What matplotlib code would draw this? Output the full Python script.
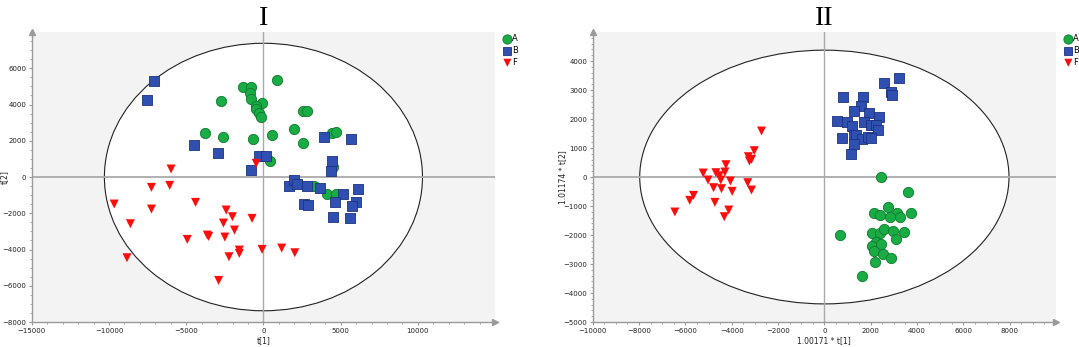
import numpy as np
import matplotlib
matplotlib.use("Agg")
import matplotlib.pyplot as plt
from matplotlib.patches import Ellipse
from matplotlib.ticker import MultipleLocator

# ---- panel I : t[1] vs t[2] ----
I_A_x = [848, -1295, -781, -848, -826, -2746, -112, -469, -491, -268, -134, 2567, 2813,
         2009, -3772, -2612, -647, 580, 2567, 4420, 4688, 424, 4531, 3304, 4107, 4688]
I_A_y = [5356, 4988, 4951, 4657, 4307, 4197, 4105, 3920, 3736, 3516, 3331, 3644, 3644,
         2669, 2448, 2190, 2117, 2301, 1859, 2448, 2485, 902, 571, -479, -939, -939]
I_B_x = [-7076, -7545, -4509, -2924, -826, -268, 179, 3929, 5692, 4420, 4353, 1652, 1987,
         2165, 2835, 3661, 5156, 6116, 2634, 2857, 4665, 6004, 5759, 4487, 5625]
I_B_y = [5319, 4233, 1749, 1307, 387, 1178, 1141, 2227, 2080, 902, 331, -479, -184,
         -405, -497, -626, -939, -644, -1472, -1565, -1380, -1399, -1583, -2227, -2264]
I_F_x = [-5982, -469, -7254, -6071, -9665, -7254, -4397, -8616, -2411, -2009, -2589, -737,
         -1875, -3638, -3549, -2500, -4933, -8839, -1563, -1563, -2232, -89, 1183, 2031, -2902]
I_F_y = [442, 755, -571, -460, -1491, -1767, -1399, -2577, -1822, -2190, -2540, -2282,
         -2927, -3203, -3276, -3313, -3442, -4454, -4031, -4215, -4399, -3994, -3920, -4178, -5706]

# ---- panel II : scaled t[1] vs scaled t[2] ----
II_A_x = [2429, 3607, 2727, 2161, 2414, 3145, 3279, 3741, 2847, 656, 2042, 2414, 2593,
          2951, 3428, 3085, 2221, 2042, 2429, 2161, 2519, 2861, 2191, 1624]
II_A_y = [0, -517, -1046, -1241, -1299, -1253, -1368, -1230, -1368, -2000, -1920, -1920, -1782,
          -1851, -1908, -2138, -2241, -2379, -2322, -2540, -2644, -2793, -2931, -3402]
II_B_x = [3234, 2563, 2861, 2936, 790, 1684, 1565, 1282, 1923, 2370, 566, 969, 1192,
          1714, 2012, 2250, 2325, 745, 1282, 1386, 1639, 1863, 2012, 1282, 1148]
II_B_y = [3414, 3253, 2920, 2839, 2759, 2759, 2460, 2287, 2195, 2057, 1943, 1897, 1759,
          1897, 1782, 1805, 1609, 1356, 1460, 1460, 1322, 1391, 1356, 1138, 782]
II_F_x = [-2712, -3025, -3279, -3145, -3234, -4247, -5231, -4680, -4292, -4531, -5022, -4471,
          -4054, -3308, -4784, -4441, -3979, -3145, -5648, -5812, -4724, -4128, -4322, -6453]
II_F_y = [1586, 908, 701, 609, 552, 425, 138, 149, 172, 46, -103, -103,
          -138, -195, -368, -402, -494, -448, -632, -805, -874, -1138, -1368, -1207]

# Hotelling ellipse half-axes
I_ell = (10300, 7380)
II_ell = (7970, 4375)

fig = plt.figure(figsize=(10.79, 3.47), dpi=100)
ax1 = fig.add_axes([0.0295, 0.072, 0.4293, 0.8357])
ax2 = fig.add_axes([0.5493, 0.072, 0.4294, 0.8357])

grey = '#9a9a9a'


def panel(ax, A, B, F, ell, xlim, ylim, xticks, yticks, xminor, yminor,
          xlabel, ylabel, ylab_x, title):
    ax.set_facecolor('#f3f3f3')
    ax.add_patch(Ellipse((0, 0), 2 * ell[0], 2 * ell[1], facecolor='white',
                         edgecolor='#222222', lw=0.8, zorder=1))
    ax.axhline(0, color='#aaaaaa', lw=1.3, zorder=1.5)
    ax.axvline(0, color='#aaaaaa', lw=1.0, zorder=1.5)
    ax.scatter(A[0], A[1], s=55, marker='o', color='#19ab44', edgecolors='#0e7a2e',
               linewidths=0.6, zorder=3, label='A')
    ax.scatter(B[0], B[1], s=48, marker='s', color='#2f50b0', edgecolors='#1d3280',
               linewidths=0.6, zorder=3, label='B')
    ax.scatter(F[0], F[1], s=42, marker='v', color='#ff0d0d', edgecolors='none',
               zorder=3, label='F')
    ax.set_xlim(*xlim)
    ax.set_ylim(*ylim)
    ax.set_xticks(xticks)
    ax.set_yticks(yticks)
    ax.xaxis.set_minor_locator(MultipleLocator(xminor))
    ax.yaxis.set_minor_locator(MultipleLocator(yminor))
    ax.tick_params(which='both', colors=grey, labelcolor='#222222', labelsize=5)
    ax.tick_params(which='major', length=2.5, width=0.8, pad=1.5)
    ax.tick_params(which='minor', length=1.5, width=0.6)
    for s in ['top', 'right']:
        ax.spines[s].set_visible(False)
    for s in ['bottom', 'left']:
        ax.spines[s].set_color(grey)
        ax.spines[s].set_linewidth(1.0)
    ax.plot(1, 0, '>', color=grey, ms=4, transform=ax.transAxes, clip_on=False)
    ax.plot(0, 1, '^', color=grey, ms=4, transform=ax.transAxes, clip_on=False)
    ax.set_xlabel(xlabel, fontsize=5.5, color='#222222')
    ax.set_ylabel(ylabel, fontsize=5.5, color='#222222')
    ax.xaxis.set_label_coords(0.5, -0.05)
    ax.yaxis.set_label_coords(ylab_x, 0.5)
    ax.set_title(title, fontsize=20, family='Liberation Serif', pad=5)
    ax.legend(loc='upper left', bbox_to_anchor=(1.005, 1.01), frameon=False,
              fontsize=6, handletextpad=0.0, labelspacing=0.35, borderpad=0.1,
              markerscale=0.9, handlelength=1.2)


panel(ax1, (I_A_x, I_A_y), (I_B_x, I_B_y), (I_F_x, I_F_y), I_ell,
      (-15000, 15000), (-8000, 8000),
      [-15000, -10000, -5000, 0, 5000, 10000], list(range(-8000, 8000, 2000)),
      1000, 500, 't[1]', 't[2]', -0.05, 'I')
panel(ax2, (II_A_x, II_A_y), (II_B_x, II_B_y), (II_F_x, II_F_y), II_ell,
      (-10000, 10000), (-5000, 5000),
      list(range(-10000, 10000, 2000)), list(range(-5000, 5000, 1000)),
      500, 200, '1.00171 * t[1]', '1.01174 * t[2]', -0.055, 'II')

fig.savefig('out.png', dpi=100)
